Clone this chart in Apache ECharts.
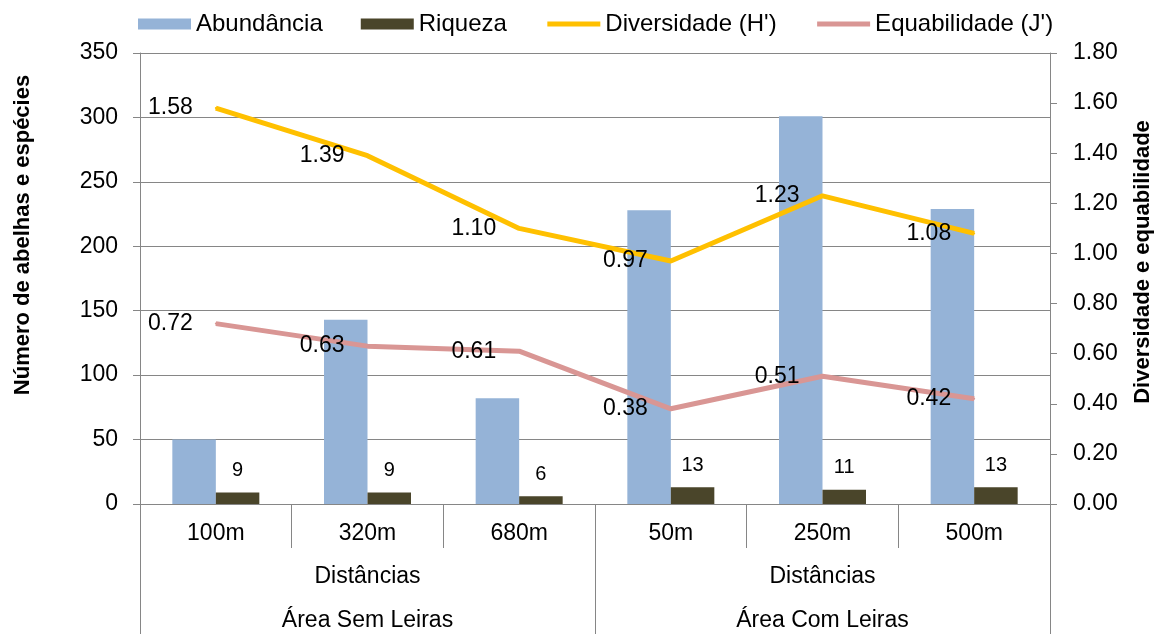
<!DOCTYPE html>
<html>
<head>
<meta charset="utf-8">
<script src="https://cdn.jsdelivr.net/npm/echarts@6/dist/echarts.min.js"></script>
<style>
  html, body { margin: 0; padding: 0; background: #ffffff; }
  #chart { width: 1159px; height: 634px; }
</style>
</head>
<body>
<div id="chart"></div>
<script>
// Distances sampled in each area
const distancias = ['100m', '320m', '680m', '50m', '250m', '500m'];
const areas = ['Área Sem Leiras', 'Área Com Leiras'];

// Bee counts (left axis)
const abundancia = [50, 143, 82, 228, 301, 229];
const riqueza = [9, 9, 6, 13, 11, 13];

// Diversity indices (right axis)
const diversidade = [1.58, 1.39, 1.10, 0.97, 1.23, 1.08];
const equabilidade = [0.72, 0.63, 0.61, 0.38, 0.51, 0.42];

const FONT = "'Liberation Sans', Arial, sans-serif";
const GRAY = '#868686';
const YELLOW = '#FFC000';
const PINK = '#D99694';

const chart = echarts.init(document.getElementById('chart'), null, { renderer: 'canvas' });

function lineLabel() {
  return {
    show: true, position: 'left', distance: 22,
    fontFamily: FONT, fontSize: 23, color: '#000',
    formatter: function (p) { return p.value.toFixed(2); }
  };
}

chart.setOption({
  animation: false,
  backgroundColor: '#ffffff',
  textStyle: { fontFamily: FONT, color: '#000' },
  grid: { left: 140, right: 109, top: 53, bottom: 130, containLabel: false },
  legend: {
    left: 133,
    top: 7,
    itemWidth: 53,
    itemHeight: 11,
    itemGap: 38,
    textStyle: { fontFamily: FONT, fontSize: 24, color: '#000' },
    data: [
      { name: 'Abundância', icon: 'rect' },
      { name: 'Riqueza', icon: 'rect' },
      { name: "Diversidade (H')", itemStyle: { color: 'rgba(0,0,0,0)', borderWidth: 0 }, lineStyle: { color: YELLOW, width: 5 } },
      { name: "Equabilidade (J')", itemStyle: { color: 'rgba(0,0,0,0)', borderWidth: 0 }, lineStyle: { color: PINK, width: 5 } }
    ]
  },
  xAxis: [
    {
      type: 'category',
      data: distancias,
      position: 'bottom',
      axisLine: { show: true, lineStyle: { color: GRAY, width: 1 } },
      axisTick: { show: true, interval: 0, length: 44, lineStyle: { color: GRAY } },
      axisLabel: { fontFamily: FONT, fontSize: 23, color: '#000', margin: 18, interval: 0 },
      splitLine: { show: false }
    },
    {
      type: 'category',
      data: areas,
      position: 'bottom',
      axisLine: { show: false },
      axisTick: { show: true, interval: 0, length: 130, lineStyle: { color: GRAY } },
      axisLabel: {
        interval: 0,
        margin: 51,
        formatter: function (v) { return '{a|Distâncias}\n{a|' + v + '}'; },
        rich: { a: { fontFamily: FONT, fontSize: 23, color: '#000', lineHeight: 44 } }
      },
      splitLine: { show: false }
    }
  ],
  yAxis: [
    {
      type: 'value',
      min: 0, max: 350, interval: 50,
      position: 'left',
      axisLine: { show: true, lineStyle: { color: GRAY } },
      axisTick: { show: true, length: 7, lineStyle: { color: GRAY } },
      axisLabel: { fontFamily: FONT, fontSize: 23, color: '#000', margin: 22 },
      splitLine: { show: true, lineStyle: { color: GRAY, width: 1 } }
    },
    {
      type: 'value',
      min: 0, max: 1.8, interval: 0.2,
      position: 'right',
      axisLine: { show: true, lineStyle: { color: GRAY } },
      axisTick: { show: true, length: 7, lineStyle: { color: GRAY } },
      axisLabel: {
        fontFamily: FONT, fontSize: 23, color: '#000', margin: 23,
        formatter: function (v) { return v.toFixed(2); }
      },
      splitLine: { show: false }
    }
  ],
  graphic: [
    {
      type: 'text',
      rotation: Math.PI / 2,
      x: 23, y: 235,
      style: {
        text: 'Número de abelhas e espécies',
        font: "bold 22px 'Liberation Sans', Arial, sans-serif",
        fill: '#000',
        textAlign: 'center',
        textVerticalAlign: 'middle'
      }
    },
    {
      type: 'text',
      rotation: Math.PI / 2,
      x: 1143, y: 262,
      style: {
        text: 'Diversidade e equabilidade',
        font: "bold 22px 'Liberation Sans', Arial, sans-serif",
        fill: '#000',
        textAlign: 'center',
        textVerticalAlign: 'middle'
      }
    }
  ],
  series: [
    {
      name: 'Abundância',
      type: 'bar',
      xAxisIndex: 0, yAxisIndex: 0,
      data: abundancia,
      barWidth: 43.5,
      barGap: '0%',
      itemStyle: { color: '#95B3D7' }
    },
    {
      name: 'Riqueza',
      type: 'bar',
      xAxisIndex: 0, yAxisIndex: 0,
      data: riqueza,
      barWidth: 43.5,
      barGap: '0%',
      itemStyle: { color: '#4A452A' },
      label: {
        show: true, position: 'top', distance: 12,
        fontFamily: FONT, fontSize: 20, color: '#000'
      }
    },
    {
      name: "Diversidade (H')",
      type: 'line',
      xAxisIndex: 0, yAxisIndex: 1,
      data: diversidade,
      symbol: 'circle',
      symbolSize: 2,
      showSymbol: true,
      lineStyle: { color: YELLOW, width: 5 },
      itemStyle: { color: YELLOW },
      label: lineLabel(),
      z: 5
    },
    {
      name: "Equabilidade (J')",
      type: 'line',
      xAxisIndex: 0, yAxisIndex: 1,
      data: equabilidade,
      symbol: 'circle',
      symbolSize: 2,
      showSymbol: true,
      lineStyle: { color: PINK, width: 5 },
      itemStyle: { color: PINK },
      label: lineLabel(),
      z: 5
    }
  ]
});
</script>
</body>
</html>
